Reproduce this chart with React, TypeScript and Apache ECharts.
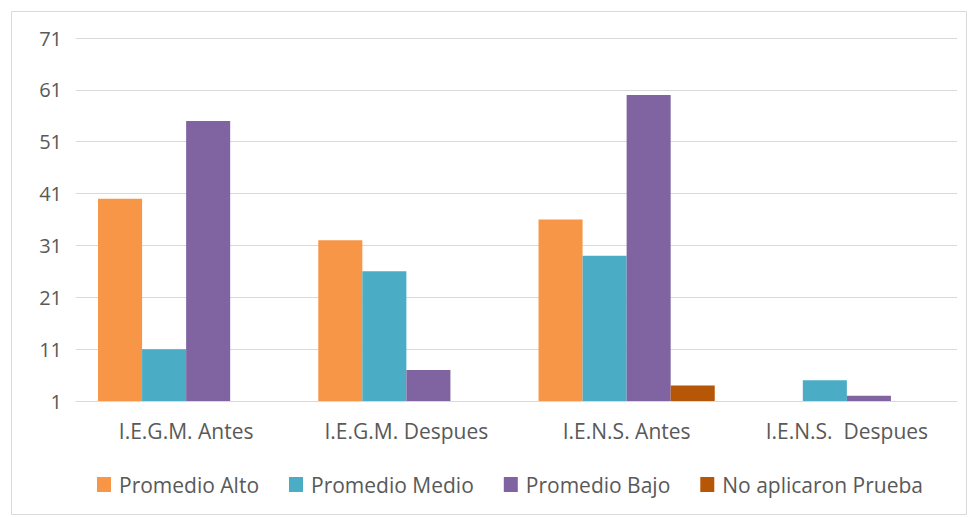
import React, { useEffect, useRef } from "react";
import * as echarts from "echarts";

const categories = ["I.E.G.M. Antes", "I.E.G.M. Despues", "I.E.N.S. Antes", "I.E.N.S.  Despues"];
const seriesNames = ["Promedio Alto", "Promedio Medio", "Promedio Bajo", "No aplicaron Prueba"];
const promedioAlto = [40, 32, 36, 1];
const promedioMedio = [11, 26, 29, 5];
const promedioBajo = [55, 7, 60, 2];
const noAplicaron = [1, 1, 4, 1];
const colors = ["#F79646", "#4BACC6", "#8064A2", "#B65708"];

export default function App() {
  const ref = useRef<HTMLDivElement>(null);
  useEffect(() => {
    if (!ref.current) return;
    const chart = echarts.init(ref.current, undefined, { renderer: "svg" });
    const values = [promedioAlto, promedioMedio, promedioBajo, noAplicaron];
    const font = "'Open Sans', sans-serif";
    chart.setOption({
      animation: false,
      textStyle: { fontFamily: font },
      graphic: [
        {
          type: "rect",
          shape: { x: 11.5, y: 11.5, width: 955, height: 503 },
          style: { fill: "none", stroke: "#D9D9D9", lineWidth: 1 },
          silent: true,
        },
      ],
      grid: { left: 76, right: 12, top: 38, bottom: 116, containLabel: false },
      legend: {
        bottom: 17,
        left: 92,
        itemWidth: 14,
        itemHeight: 15,
        itemGap: 30,
        icon: "rect",
        textStyle: { color: "#595959", fontSize: 21, fontFamily: font, padding: [0, 0, 0, 3] },
        data: seriesNames,
      },
      xAxis: {
        type: "category",
        data: categories,
        axisLine: { show: true, lineStyle: { color: "#D9D9D9" } },
        axisTick: { show: false },
        axisLabel: { color: "#595959", fontSize: 21, margin: 19, fontFamily: font },
      },
      yAxis: {
        type: "value",
        min: 1,
        max: 71,
        interval: 10,
        axisLine: { show: false },
        axisTick: { show: false },
        splitLine: { lineStyle: { color: "#D9D9D9", width: 1 } },
        axisLabel: { color: "#595959", fontSize: 20, margin: 14, fontFamily: font },
      },
      series: seriesNames.map((name, i) => ({
        name,
        type: "bar",
        data: values[i],
        barGap: "0%",
        barCategoryGap: "20%",
        itemStyle: { color: colors[i] },
      })),
    });
    return () => chart.dispose();
  }, []);
  return (
    <div
      ref={ref}
      style={{ position: "absolute", left: 0, top: 0, width: 969, height: 517, background: "#fff" }}
    />
  );
}
